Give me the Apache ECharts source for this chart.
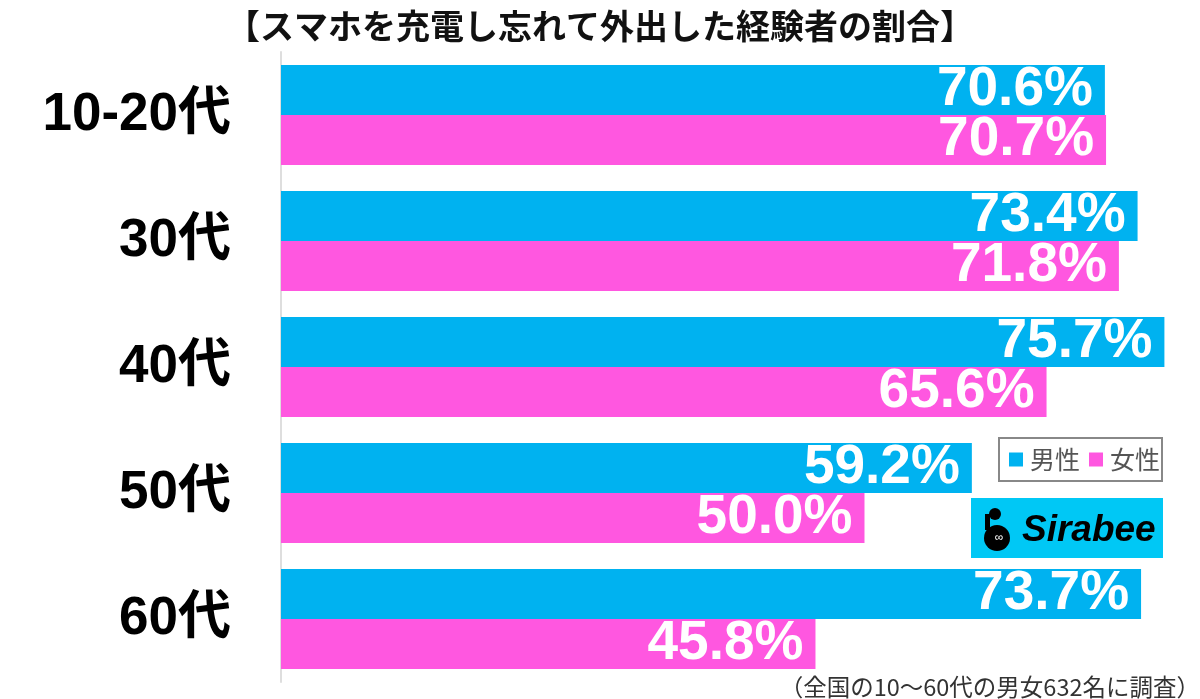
<!DOCTYPE html>
<html><head><meta charset="utf-8">
<script src="https://cdn.jsdelivr.net/npm/echarts@6/dist/echarts.min.js"></script>
<style>html,body{margin:0;padding:0;background:#fff}#c{width:1200px;height:699px}</style>
</head><body><div id="c"></div>
<script>
const title = '【スマホを充電し忘れて外出した経験者の割合】';
const categories = ['10-20代', '30代', '40代', '50代', '60代'];
const seriesNames = ['男性', '女性'];
const male = [70.6, 73.4, 75.7, 59.2, 73.7];
const female = [70.7, 71.8, 65.6, 50.0, 45.8];
const note = '（全国の10～60代の男女632名に調査）';

const chart = echarts.init(document.getElementById('c'));
const labelStyle = {
  show: true, position: 'insideRight', distance: 12,
  formatter: p => p.value.toFixed(1) + '%',
  color: '#fff', fontSize: 55, fontWeight: 'bold',
  fontFamily: '"Liberation Sans", Arial, sans-serif'
};
chart.setOption({
  animation: false,
  title: {
    text: title, left: 'center', top: 4,
    textStyle: { fontSize: 34, fontWeight: 'bold', color: '#111', fontFamily: '"Noto Sans CJK JP", sans-serif' }
  },
  legend: {
    data: seriesNames, left: 1009, top: 447,
    icon: 'rect', itemWidth: 14, itemHeight: 14, itemGap: 9,
    padding: 0,
    textStyle: { fontSize: 25, color: '#555', fontFamily: '"Noto Sans CJK JP", sans-serif', padding: [0, 0, 0, 2] }
  },
  grid: { left: 281, top: 52, right: 0, height: 630, containLabel: false },
  xAxis: { type: 'value', min: 0, max: 78.75, show: false },
  yAxis: {
    type: 'category', data: categories, inverse: true,
    axisLine: { show: true, lineStyle: { color: '#dedede', width: 2 } },
    axisTick: { show: false },
    axisLabel: {
      margin: 50, color: '#000', fontSize: 53, fontWeight: 'bold',
      fontFamily: '"Liberation Sans", "Noto Sans CJK JP", sans-serif'
    }
  },
  series: [
    { name: seriesNames[0], type: 'bar', data: male, barWidth: 50, barGap: '0%',
      itemStyle: { color: '#00b2f0' }, label: labelStyle },
    { name: seriesNames[1], type: 'bar', data: female, barWidth: 50, barGap: '0%',
      itemStyle: { color: '#ff57e0' }, label: labelStyle }
  ],
  graphic: [
    { type: 'rect', shape: { x: 999, y: 438, width: 163, height: 43 }, style: { fill: 'none', stroke: '#888', lineWidth: 2 } },
    { type: 'rect', shape: { x: 971, y: 498, width: 192, height: 60 }, style: { fill: '#00c8f5' } },
    { type: 'circle', shape: { cx: 997, cy: 538, r: 13 }, style: { fill: '#000' } },
    { type: 'circle', shape: { cx: 995, cy: 514, r: 6 }, style: { fill: '#000' } },
    { type: 'rect', shape: { x: 985, y: 514, width: 5, height: 16 }, style: { fill: '#000' } },
    { type: 'text', style: { x: 999, y: 538, text: '∞', fill: '#fff', fontSize: 12, align: 'center', verticalAlign: 'middle' } },
    { type: 'text', style: { x: 1022, y: 531, text: 'Sirabee', fill: '#000', fontSize: 37, fontWeight: 'bold', fontStyle: 'italic',
      fontFamily: '"Liberation Sans", Arial, sans-serif', verticalAlign: 'middle' } },
    { type: 'text', style: { x: 1200, y: 687, text: note, fill: '#333', fontSize: 23.5, align: 'right', verticalAlign: 'middle',
      fontFamily: '"Noto Sans CJK JP", sans-serif' } }
  ]
});
</script></body></html>
